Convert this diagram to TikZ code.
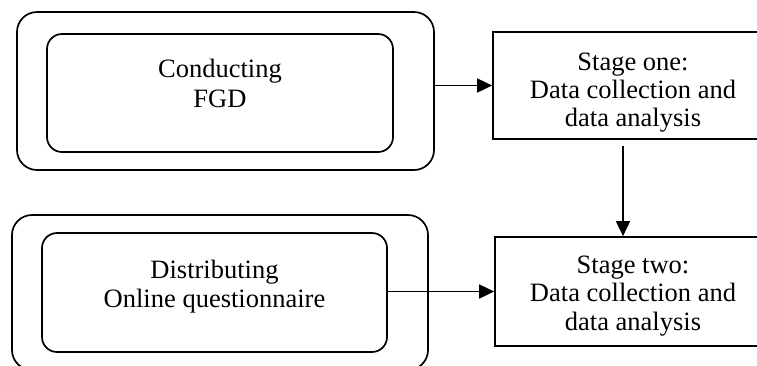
\documentclass[tikz,border=0pt]{standalone}
\usepackage{fontspec}
\setmainfont{Liberation Serif}
\usetikzlibrary{arrows.meta}
\begin{document}
\begin{tikzpicture}[x=1pt,y=-1pt,
  line width=1.7pt,
  roundbox/.style={draw,rounded corners=#1,inner sep=0pt},
  stagebox/.style={draw,inner sep=0pt,minimum width=280pt,minimum height=107pt},
  lbl/.style={align=center,anchor=base,inner sep=0pt,font=\fontsize{26.5}{#1}\selectfont},
  arr/.style={-{Triangle[length=15pt,width=14pt]}}]
\useasboundingbox (0,0) rectangle (757,365);
\clip (0,0) rectangle (757,365);
% top left group
\node[roundbox=20pt,minimum width=417pt,minimum height=158pt] (out1) at (225.5,91) {};
\node[roundbox=15pt,minimum width=346pt,minimum height=118pt] (in1) at (220,93) {};
\node[lbl=30pt] (t1) at (220,107) {Conducting\\FGD};
% bottom left group
\node[roundbox=20pt,minimum width=416pt,minimum height=155pt] (out2) at (220,292.5) {};
\node[roundbox=15pt,minimum width=345pt,minimum height=119pt] (in2) at (214.5,292.5) {};
\node[lbl=29pt] (t2) at (214.5,307) {Distributing\\Online questionnaire};
% stage boxes
\node[stagebox] (s1) at (633,85.5) {};
\node[lbl=28pt] (ts1) at (633,126) {Stage one:\\Data collection and\\data analysis};
\node[stagebox,minimum width=278pt,minimum height=109pt] (s2) at (634,291.5) {};
\node[lbl=28.5pt] (ts2) at (633,330) {Stage two:\\Data collection and\\data analysis};
% connectors
\draw[arr] (out1.east |- s1.west) -- (s1.west);
\draw[arr] (in2.east |- s2.west) -- (s2.west);
\coordinate (v1) at ([xshift=-10pt,yshift=-6pt]s1.south);
\draw[arr] (v1) -- (v1 |- s2.north);
\end{tikzpicture}
\end{document}
